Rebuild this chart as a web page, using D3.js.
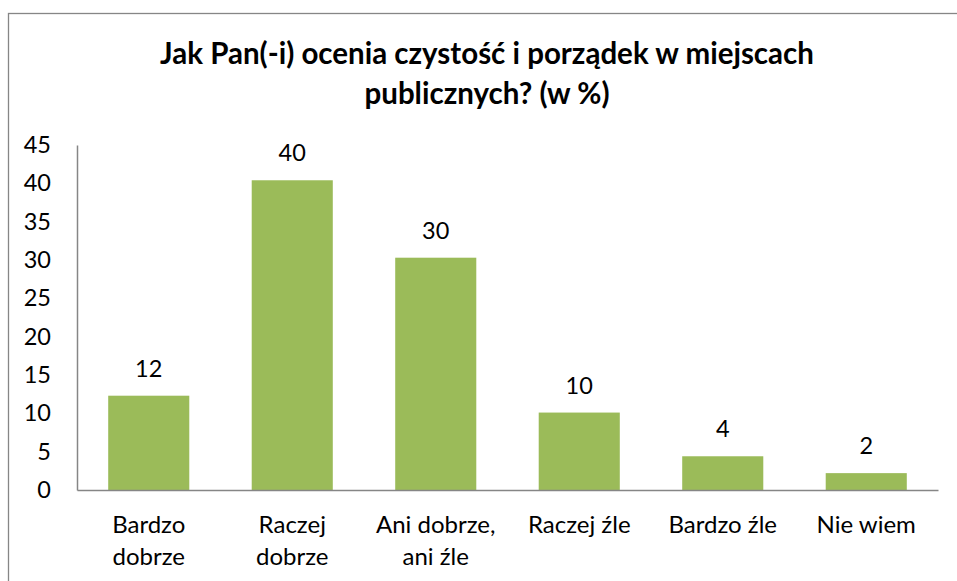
<!DOCTYPE html>
<html>
  <head>
    <meta charset="utf-8">
    <title>Czystość i porządek</title>
    <script src="https://cdn.jsdelivr.net/npm/d3@7"></script>
    <style>
      body { margin: 0; background: #fff; }
      text { font-family: Lato, "Open Sans", sans-serif; fill: #000; }
    </style>
  </head>
  <body>
    <script>
      var categories = [["Bardzo", "dobrze"], ["Raczej", "dobrze"], ["Ani dobrze,", "ani źle"], ["Raczej źle"], ["Bardzo źle"], ["Nie wiem"]];
      var values = [12.3, 40.4, 30.3, 10.1, 4.4, 2.2];
      var labels = ["12", "40", "30", "10", "4", "2"];
      var yTicks = [0, 5, 10, 15, 20, 25, 30, 35, 40, 45];
      var titleLines = ["Jak Pan(-i) ocenia czystość i porządek w miejscach", "publicznych? (w %)"];

      var width = 957, height = 581;

      var svg = d3.select("body").append("svg")
        .attr("width", width)
        .attr("height", height);

      // chart frame (runs off the right and bottom edge)
      svg.append("rect")
        .attr("x", 8.5).attr("y", 13.5)
        .attr("width", 970).attr("height", 600)
        .attr("fill", "none")
        .attr("stroke", "#868686")
        .attr("stroke-width", 1.3);

      svg.selectAll(".title")
        .data(titleLines)
        .enter().append("text")
          .attr("class", "title")
          .attr("x", 487)
          .attr("y", function (d, i) { return 64 + i * 40; })
          .attr("text-anchor", "middle")
          .style("font-weight", "bold")
          .style("font-size", "29.5px")
          .text(function (d) { return d; });

      var xScale = d3.scaleBand()
        .domain(d3.range(values.length))
        .range([77, 938])
        .paddingInner(0.435)
        .paddingOuter(0.2175);

      var yScale = d3.scaleLinear().domain([0, 45]).range([490, 145]);

      svg.selectAll(".bar")
        .data(values)
        .enter().append("rect")
          .attr("class", "bar")
          .attr("x", function (d, i) { return xScale(i); })
          .attr("y", function (d) { return yScale(d); })
          .attr("width", xScale.bandwidth())
          .attr("height", function (d) { return yScale(0) - yScale(d); })
          .attr("fill", "#9bbb59");

      svg.selectAll(".val")
        .data(values)
        .enter().append("text")
          .attr("class", "val")
          .attr("x", function (d, i) { return xScale(i) + xScale.bandwidth() / 2; })
          .attr("y", function (d) { return yScale(d) - 19; })
          .attr("text-anchor", "middle")
          .style("font-size", "23.5px")
          .text(function (d, i) { return labels[i]; });

      // y axis: no tick marks, just line and labels
      var yAxis = svg.append("g")
        .attr("transform", "translate(77,0)")
        .call(d3.axisLeft(yScale).tickValues(yTicks).tickSize(0).tickPadding(26));
      yAxis.select(".domain").attr("stroke", "#868686").attr("stroke-width", 1.5);
      yAxis.selectAll("text").style("font-size", "23.5px").attr("fill", "#000");

      var xAxis = svg.append("g")
        .attr("transform", "translate(0,490)")
        .call(d3.axisBottom(xScale).tickSize(0).tickFormat(""));
      xAxis.select(".domain").attr("stroke", "#868686").attr("stroke-width", 1.5);

      svg.selectAll(".cat")
        .data(categories)
        .enter().append("text")
          .attr("class", "cat")
          .attr("x", function (d, i) { return xScale(i) + xScale.bandwidth() / 2; })
          .attr("y", 533)
          .attr("text-anchor", "middle")
          .style("font-size", "24px")
          .selectAll("tspan")
          .data(function (d) { return d; })
          .enter().append("tspan")
            .attr("x", function () { return d3.select(this.parentNode).attr("x"); })
            .attr("dy", function (d, i) { return i === 0 ? 0 : 32; })
            .text(function (d) { return d; });
    </script>
  </body>
</html>
